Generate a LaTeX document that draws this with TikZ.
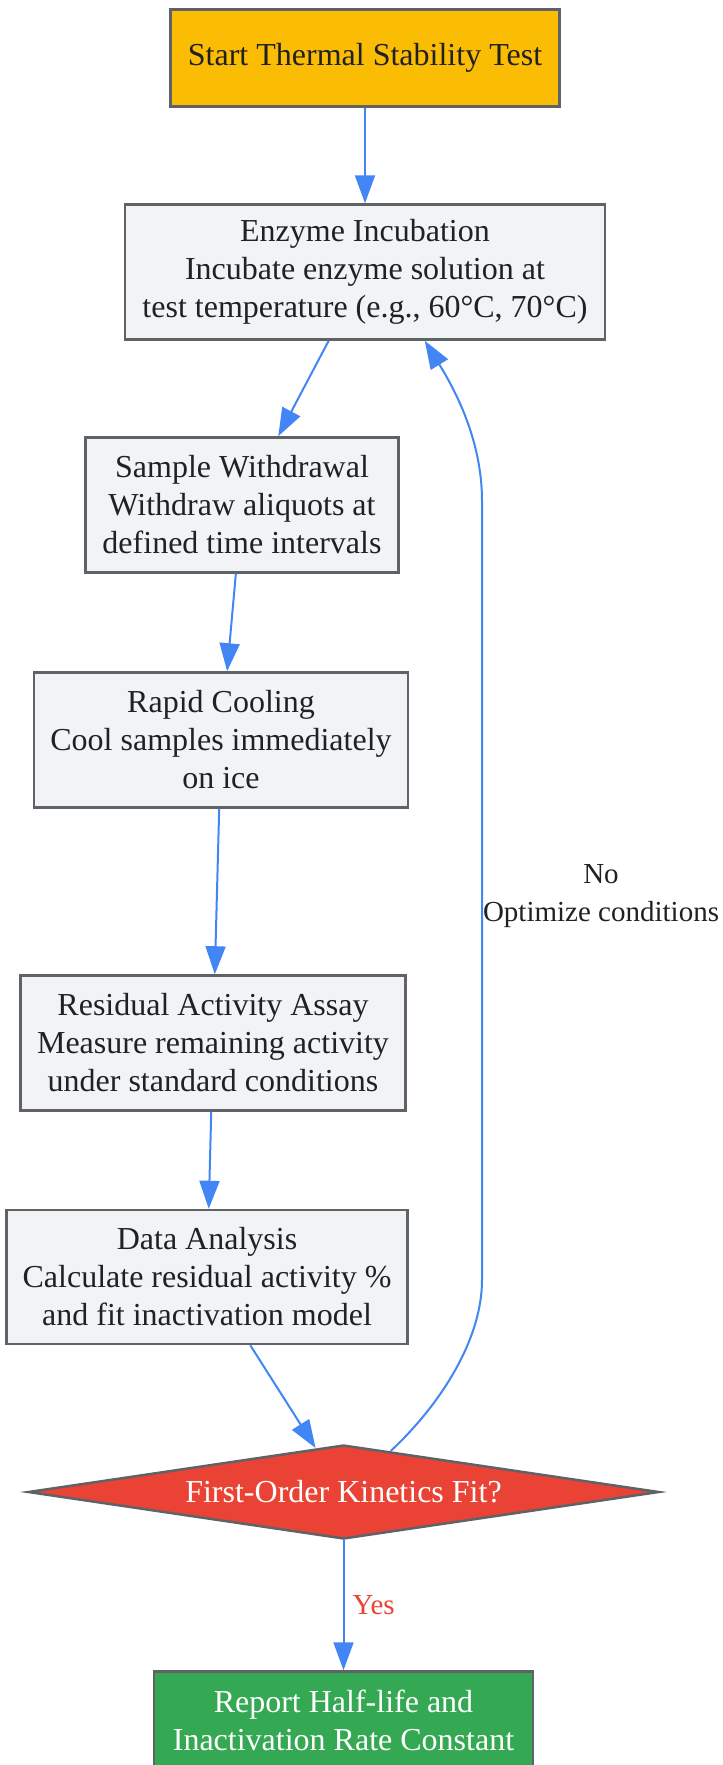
\documentclass[tikz,border=0pt]{standalone}
\usepackage{fontspec}
\setmainfont{Liberation Serif}
\usetikzlibrary{arrows.meta}
\usetikzlibrary{shapes.geometric}

\begin{document}
\begin{tikzpicture}[x=1pt,y=1pt,yscale=-1,xscale=1,
  step box/.style={draw={rgb, 255:red, 95; green, 99; blue, 104 }, line width=2.5pt, inner sep=0pt, align=center, font=\fontsize{32}{38}\selectfont, text={rgb, 255:red, 32; green, 33; blue, 36 }, fill={rgb, 255:red, 241; green, 243; blue, 244 }, minimum height=135pt},
  edge text/.style={inner sep=0pt, align=center, font=\fontsize{29}{38}\selectfont},
  flow/.style={draw={rgb, 255:red, 66; green, 133; blue, 244 }, line width=2pt, -{Triangle[length=28pt,width=20pt]}, fill=none}
]
%set diagram left start at 0, and has height of 1765
\useasboundingbox (0,0) rectangle (723,1765);

%Shape: Rectangle [start]
\node [step box, fill={rgb, 255:red, 251; green, 188; blue, 4 }, minimum width=389pt, minimum height=97pt] (start) at (365,58) {Start Thermal Stability Test};
%Shape: Rectangle [incubation]
\node [step box, minimum width=480pt] (enz) at (365,272) {Enzyme Incubation\\Incubate enzyme solution at\\test temperature (e.g., 60°C, 70°C)};
%Shape: Rectangle [withdrawal]
\node [step box, minimum width=313pt] (smp) at (242,505) {Sample Withdrawal\\Withdraw aliquots at\\defined time intervals};
%Shape: Rectangle [cooling]
\node [step box, minimum width=374pt] (cool) at (221,740) {Rapid Cooling\\Cool samples immediately\\on ice};
%Shape: Rectangle [assay]
\node [step box, minimum width=385pt] (res) at (213,1043) {Residual Activity Assay\\Measure remaining activity\\under standard conditions};
%Shape: Rectangle [analysis]
\node [step box, minimum width=401pt, minimum height=134pt] (data) at (207,1277) {Data Analysis\\Calculate residual activity \%\\and fit inactivation model};
%Shape: Diamond [decision]
\node [step box, diamond, aspect=6.7, fill={rgb, 255:red, 234; green, 67; blue, 53 }, text=white, minimum width=631pt, minimum height=94pt] (dia) at (343.5,1492) {First-Order Kinetics Fit?};
%Shape: Rectangle [report]
\node [step box, fill={rgb, 255:red, 52; green, 168; blue, 83 }, text=white, minimum width=379pt, minimum height=97pt] (rep) at (343.5,1720) {Report Half-life and\\Inactivation Rate Constant};

%Straight Lines
\draw [flow] (start) -- (enz);
\draw [flow] (enz) -- (smp);
\draw [flow] (smp) -- (cool);
\draw [flow] (cool) -- (res);
\draw [flow] (res) -- (data);
\draw [flow] (data) -- (dia);
\draw [flow] (dia) -- node [edge text, right, inner sep=8pt, text={rgb, 255:red, 234; green, 67; blue, 53 }] {Yes} (rep);

%Curve Lines [loop back]
\coordinate (fbbot) at (482,1280);
\coordinate (fbtop) at (482,501);
\draw [flow] (dia.41) .. controls (440,1405) and (482,1340) .. (fbbot) -- node [edge text, right, pos=0.493, text={rgb, 255:red, 32; green, 33; blue, 36 }] {No\\Optimize conditions} (fbtop) .. controls (482,440) and (455,390) .. (enz.-49);

\end{tikzpicture}
\end{document}
